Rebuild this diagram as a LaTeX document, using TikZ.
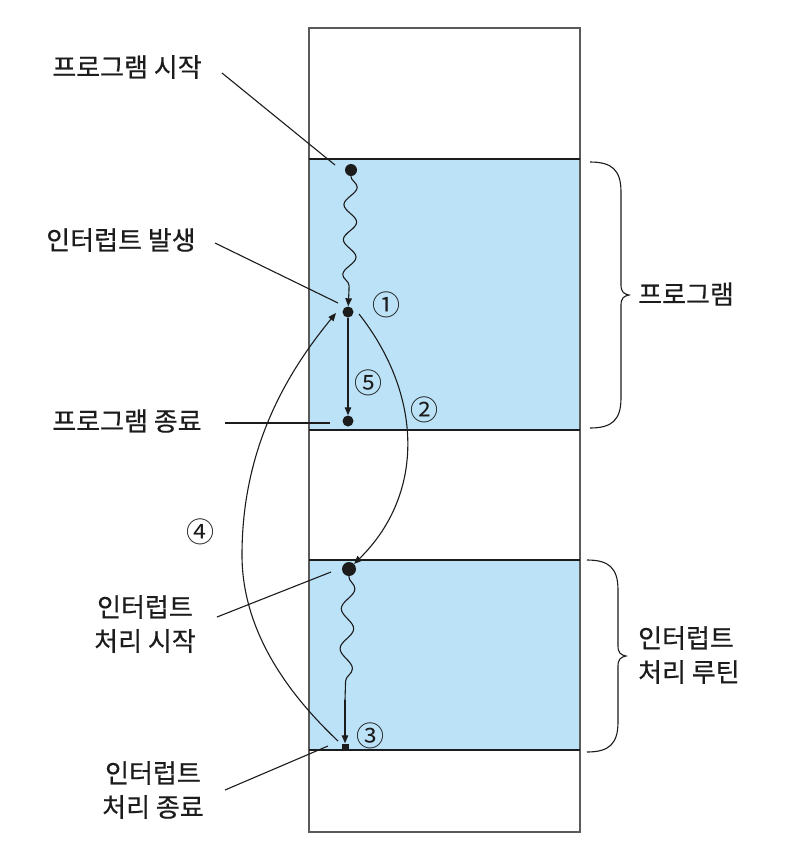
\documentclass[tikz,border=0pt]{standalone}
\usepackage{fontspec}
\newfontfamily\kr{Noto Sans CJK KR}[FakeBold=0.5]
\newfontfamily\krnum{Noto Sans CJK KR}
\usetikzlibrary{arrows.meta,decorations.pathmorphing}
\definecolor{band}{RGB}{188,226,247}
\definecolor{ink}{RGB}{28,28,28}
\definecolor{frame}{RGB}{90,90,90}
\newcommand\mybrace[4]{% x, ytop, ybot, tip x
  \draw[ink, line width=1.1pt]
    (#1,#2) .. controls ({#1+22},#2) and ({#4-8},{#2+8}) .. ({#4-8},{#2+30})
    -- ({#4-8},{(#2+#3)/2-10})
    .. controls ({#4-8},{(#2+#3)/2-3}) and ({#4-5},{(#2+#3)/2-1}) .. (#4,{(#2+#3)/2})
    .. controls ({#4-5},{(#2+#3)/2+1}) and ({#4-8},{(#2+#3)/2+3}) .. ({#4-8},{(#2+#3)/2+10})
    -- ({#4-8},{#3-30})
    .. controls ({#4-8},{#3-8}) and ({#1+22},#3) .. (#1,#3);}
\begin{document}
\begin{tikzpicture}[x=1pt,y=-1pt,
  lbl/.style={font=\kr\fontsize{26}{34}\selectfont, text=ink, align=center, inner sep=0},
  num/.style={font=\krnum\fontsize{28}{30}\selectfont, text=ink, inner sep=0},
  dot/.style={circle, fill=ink, inner sep=0, minimum size=#1},
  lead/.style={draw=ink, line width=1.1pt},
  flow/.style={draw=ink, line width=1.1pt, -{Triangle[length=8pt,width=6.5pt]}},
  wavy/.style={draw=ink, line width=1.1pt, decorate, decoration={snake, amplitude=6.5pt, segment length=#1}},
]
\useasboundingbox (0,0) rectangle (794,860);
\fill[white] (0,0) rectangle (794,860);
% memory column
\fill[band] (309,159) rectangle (580,430);
\fill[band] (309,560) rectangle (580,750);
\draw[frame, line width=1.1pt] (309,28) rectangle (580,832);
\draw[ink, line width=1.6pt] (309,159) -- (580,159);
\draw[ink, line width=1.6pt] (309,430) -- (580,430);
\draw[ink, line width=1.6pt] (309,560) -- (580,560);
\draw[ink, line width=1.6pt] (309,750) -- (580,750);
% points
\node[dot=12pt] (s) at (351,170) {};
\node[dot=11pt] (i1) at (348,312) {};
\node[dot=11pt] (e) at (348,421) {};
\node[dot=14pt] (r) at (349,569) {};
\node[rectangle, fill=ink, minimum size=7pt, inner sep=0] (q) at (345,747) {};
% flow
\coordinate (w1) at (349,290);
\draw[wavy=35pt] (s) -- (w1);
\draw[flow] (w1) -- (i1);
\draw[flow] (i1) -- (e);
\coordinate (w2) at (345,700);
\draw[wavy=40pt] (r) -- (w2);
\draw[flow] (w2) -- (q);
\coordinate (a2s) at (359,314);
\draw[flow] (a2s) .. controls (422,394) and (426,493) .. (r.north east);
\coordinate (a4s) at (338,741);
\coordinate (a4m) at (242,555);
\coordinate (a4e) at (336,313);
\draw[flow] (a4s) .. controls (300,705) and (242,640) .. (a4m)
  .. controls (242,450) and (285,375) .. (a4e);
% numbers
\node[num] (n1) at (386,305) {①};
\node[num] (n2) at (424,410) {②};
\node[num] (n3) at (370,736) {③};
\node[num] (n4) at (200,532) {④};
\node[num] (n5) at (368,383) {⑤};
% labels
\node[lbl] (t1) at (127,67) {프로그램 시작};
\coordinate (t1a) at (222,73); \coordinate (t1e) at (335,165);
\draw[lead] (t1a) -- (t1e);
\node[lbl] (t2) at (121,240) {인터럽트 발생};
\coordinate (t2a) at (215,243); \coordinate (t2e) at (338,303);
\draw[lead] (t2a) -- (t2e);
\node[lbl] (t3) at (127,421) {프로그램 종료};
\coordinate (t3a) at (225,423); \coordinate (t3e) at (330,423);
\draw[lead] (t3a) -- (t3e);
\node[lbl] (t4) at (145,624) {인터럽트\\처리 시작};
\coordinate (t4a) at (217,617); \coordinate (t4e) at (331,572);
\draw[lead] (t4a) -- (t4e);
\node[lbl] (t5) at (153,790) {인터럽트\\처리 종료};
\coordinate (t5a) at (225,790); \coordinate (t5e) at (328,746);
\draw[lead] (t5a) -- (t5e);
% braces
\mybrace{590}{162}{428}{629}
\node[lbl, anchor=west] (b1) at (638,294) {프로그램};
\mybrace{587}{560}{752}{626}
\node[lbl, anchor=west, align=left] (b2) at (638,655) {인터럽트\\처리 루틴};
\end{tikzpicture}
\end{document}
